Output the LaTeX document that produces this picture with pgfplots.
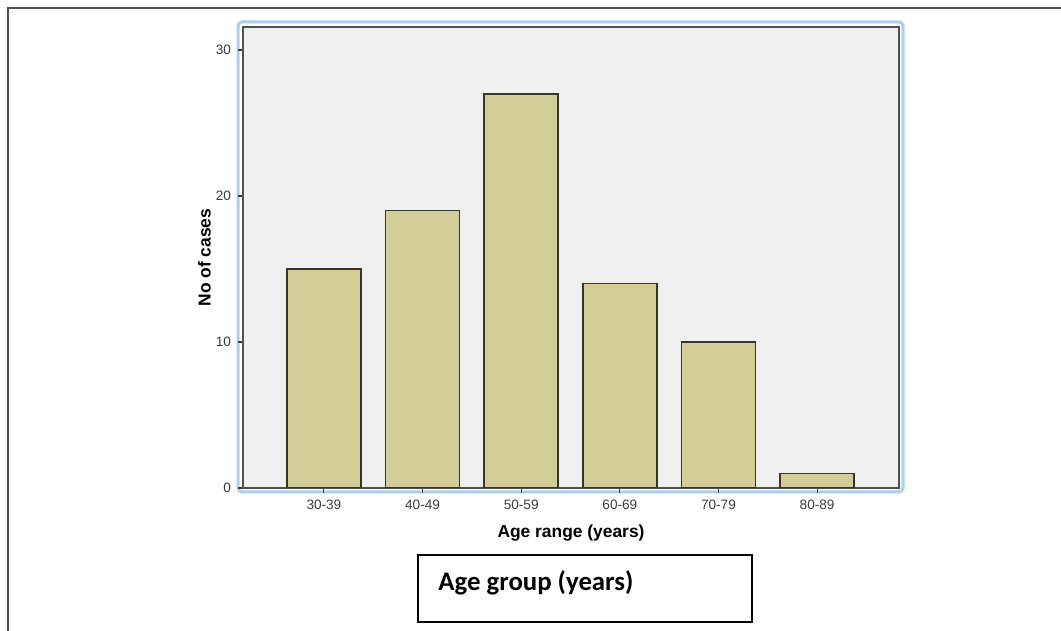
\documentclass[border=0pt]{standalone}
\usepackage{pgfplots}
\pgfplotsset{compat=1.18}
\usepackage{fontspec}
\setmainfont{Liberation Sans}
\newfontfamily\boxfont{Carlito}

\definecolor{barfill}{RGB}{211,206,151}
\definecolor{baredge}{RGB}{55,55,40}
\definecolor{plotbg}{RGB}{240,240,240}
\definecolor{spssblue}{RGB}{170,206,240}
\definecolor{framegray}{RGB}{80,80,80}
\definecolor{ticktext}{RGB}{60,60,60}

\begin{document}
\begin{tikzpicture}
% page is 1061x631 px at 0.5pt per px
\path[use as bounding box] (0,0) rectangle (530.5pt,315.5pt);

% outer frame (cut off at right and bottom)
\draw[framegray, line width=1pt] (4pt,0pt) -- (4pt,311.5pt) -- (530.5pt,311.5pt);

% light blue selection border round the chart
\draw[spssblue, line width=1.5pt, rounded corners=2pt] (119pt,69.5pt) rectangle (451.5pt,304.5pt);

\begin{axis}[
    at={(121.5pt,71.5pt)}, anchor=south west,
    scale only axis,
    width=328pt, height=230.5pt,
    xmin=-0.82, xmax=5.83,
    ymin=0, ymax=31.58,
    xtick={0,1,2,3,4,5},
    xticklabels={30-39,40-49,50-59,60-69,70-79,80-89},
    ytick={0,10,20,30},
    tick align=outside,
    major tick length=2.5pt,
    tick style={ticktext, line width=0.6pt},
    x tick label style={font=\fontsize{6.8}{8}\selectfont, text=ticktext},
    y tick label style={font=\fontsize{6.8}{8}\selectfont, text=ticktext},
    /pgf/number format/assume math mode=true,
    xtick pos=bottom, ytick pos=left,
    axis line style={framegray, line width=0.8pt},
    axis background/.style={fill=plotbg},
    xlabel={\textbf{Age range (years)}},
    ylabel={\textbf{No of cases}},
    every axis x label/.style={at={(axis description cs:0.5,0)}, anchor=center, yshift=-22.5pt, font=\fontsize{8.7}{10}\selectfont},
    every axis y label/.style={at={(axis description cs:-0.0587,0.5)}, anchor=center, rotate=90, font=\fontsize{8.7}{10}\selectfont},
    ybar, bar width=0.75,
]
\addplot[fill=barfill, draw=baredge, line width=0.75pt] coordinates {
    (0,15) (1,19) (2,27) (3,14) (4,10) (5,1)
};
\end{axis}

% caption box below the chart
\draw[black, line width=0.6pt] (209pt,4.5pt) rectangle (376pt,38pt);
\node[anchor=west, font=\boxfont\bfseries\fontsize{13.4}{16}\selectfont, inner sep=0pt] at (219pt,24pt) {Age group (years)};
\end{tikzpicture}
\end{document}
